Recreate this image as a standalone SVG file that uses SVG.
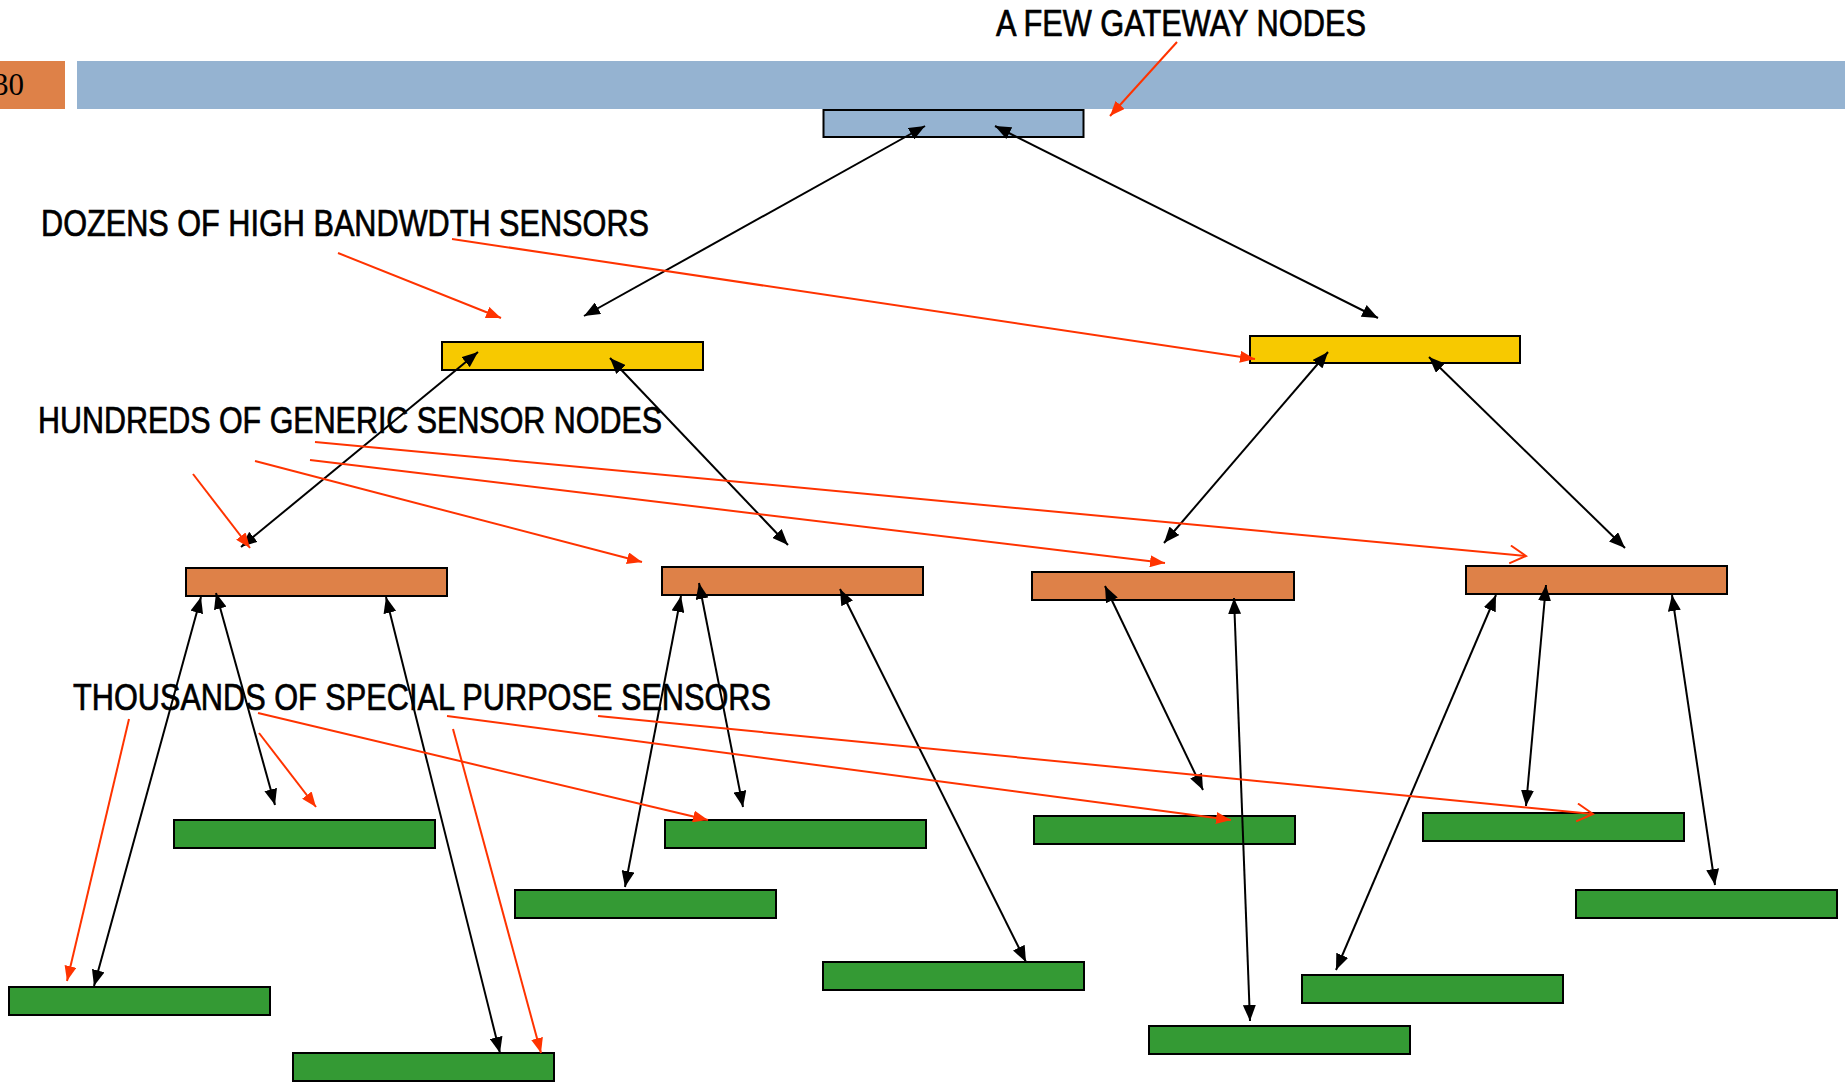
<svg xmlns="http://www.w3.org/2000/svg" width="1845" height="1088" viewBox="0 0 1845 1088">
  <style>
    .gw { fill: #95B3D1; stroke: #000; stroke-width: 2; }
    .hb { fill: #F7C900; stroke: #000; stroke-width: 2; }
    .gn { fill: #DE8148; stroke: #000; stroke-width: 2; }
    .sp { fill: #349A34; stroke: #000; stroke-width: 2; }
    .link { stroke: #000; stroke-width: 2; fill: none; marker-start: url(#headB); marker-end: url(#headB); }
    .call { stroke: #FF3300; stroke-width: 2; fill: none; marker-end: url(#headR); }
    .call-open { stroke: #FF3300; stroke-width: 2; fill: none; marker-end: url(#headRo); }
    .lbl { font-family: "Liberation Sans Narrow", "Liberation Sans", Arial, sans-serif; font-size: 37px; fill: #000; stroke: #000; stroke-width: 0.7px; }
  </style>
  <defs>
    <marker id="headB" markerUnits="userSpaceOnUse" markerWidth="17" markerHeight="13" refX="16" refY="6.5" orient="auto-start-reverse">
      <path d="M0,0 L16,6.5 L0,13 z" fill="#000"/>
    </marker>
    <marker id="headR" markerUnits="userSpaceOnUse" markerWidth="16" markerHeight="12" refX="15" refY="6" orient="auto">
      <path d="M0,0 L15,6 L0,12 z" fill="#FF3300"/>
    </marker>
    <marker id="headRo" markerUnits="userSpaceOnUse" markerWidth="20" markerHeight="22" refX="17" refY="10" orient="auto">
      <path d="M1,1 L17,10 L1,19" fill="none" stroke="#FF3300" stroke-width="2"/>
    </marker>
  </defs>

  <!-- slide header -->
  <g id="header">
    <rect x="0" y="61" width="65" height="48" fill="#DE8148"/>
    <text x="-7" y="95" font-family="Liberation Serif, serif" font-size="31" fill="#000">30</text>
    <rect x="77" y="61" width="1768" height="48" fill="#95B3D1"/>
  </g>

  <!-- tier labels -->
  <g id="labels">
    <text class="lbl" x="996" y="36" textLength="370" lengthAdjust="spacingAndGlyphs">A FEW GATEWAY NODES</text>
    <text class="lbl" x="41" y="236" textLength="608" lengthAdjust="spacingAndGlyphs">DOZENS OF HIGH BANDWDTH SENSORS</text>
    <text class="lbl" x="38" y="433" textLength="624" lengthAdjust="spacingAndGlyphs">HUNDREDS OF GENERIC SENSOR NODES</text>
    <text class="lbl" x="73" y="710" textLength="698" lengthAdjust="spacingAndGlyphs">THOUSANDS OF SPECIAL PURPOSE SENSORS</text>
  </g>

  <!-- gateway -->
  <g id="gateway"><rect class="gw" x="823.5" y="110" width="260" height="27"/></g>

  <!-- high bandwidth sensors -->
  <g id="hb-left"><rect class="hb" x="442" y="342" width="261" height="28"/></g>
  <g id="hb-right"><rect class="hb" x="1250" y="336" width="270" height="27"/></g>

  <!-- generic sensor nodes -->
  <g id="gen-1"><rect class="gn" x="186" y="568" width="261" height="28"/></g>
  <g id="gen-2"><rect class="gn" x="662" y="567" width="261" height="28"/></g>
  <g id="gen-3"><rect class="gn" x="1032" y="572" width="262" height="28"/></g>
  <g id="gen-4"><rect class="gn" x="1466" y="566" width="261" height="28"/></g>

  <!-- special purpose sensors -->
  <g id="sp-1"><rect class="sp" x="9" y="987" width="261" height="28"/></g>
  <g id="sp-2"><rect class="sp" x="174" y="820" width="261" height="28"/></g>
  <g id="sp-3"><rect class="sp" x="293" y="1053" width="261" height="28"/></g>
  <g id="sp-4"><rect class="sp" x="515" y="890" width="261" height="28"/></g>
  <g id="sp-5"><rect class="sp" x="665" y="820" width="261" height="28"/></g>
  <g id="sp-6"><rect class="sp" x="823" y="962" width="261" height="28"/></g>
  <g id="sp-7"><rect class="sp" x="1034" y="816" width="261" height="28"/></g>
  <g id="sp-8"><rect class="sp" x="1149" y="1026" width="261" height="28"/></g>
  <g id="sp-9"><rect class="sp" x="1423" y="813" width="261" height="28"/></g>
  <g id="sp-10"><rect class="sp" x="1576" y="890" width="261" height="28"/></g>
  <g id="sp-11"><rect class="sp" x="1302" y="975" width="261" height="28"/></g>

  <g id="connectors">
    <!-- two-way links between tiers -->
    <g id="links">
      <line class="link" x1="925" y1="126" x2="584" y2="316"/>
      <line class="link" x1="995" y1="126" x2="1378" y2="318"/>
      <line class="link" x1="478" y1="352" x2="241" y2="547"/>
      <line class="link" x1="610" y1="358" x2="788" y2="545"/>
      <line class="link" x1="1328" y1="352" x2="1164" y2="543"/>
      <line class="link" x1="1429" y1="357" x2="1625" y2="548"/>
      <line class="link" x1="201" y1="597" x2="94" y2="986"/>
      <line class="link" x1="216" y1="593" x2="275" y2="805"/>
      <line class="link" x1="386" y1="597" x2="500" y2="1053"/>
      <line class="link" x1="681" y1="596" x2="625" y2="887"/>
      <line class="link" x1="699" y1="583" x2="743" y2="807"/>
      <line class="link" x1="840" y1="589" x2="1026" y2="962"/>
      <line class="link" x1="1105" y1="586" x2="1203" y2="790"/>
      <line class="link" x1="1234" y1="598" x2="1250" y2="1021"/>
      <line class="link" x1="1496" y1="595" x2="1336" y2="970"/>
      <line class="link" x1="1546" y1="585" x2="1526" y2="806"/>
      <line class="link" x1="1672" y1="595" x2="1715" y2="885"/>
    </g>
    <!-- label callouts -->
    <g id="callouts">
      <line class="call" x1="1177" y1="42" x2="1110" y2="116"/>
      <line class="call" x1="338" y1="253" x2="501" y2="318"/>
      <line class="call" x1="452" y1="239" x2="1255" y2="359"/>
      <line class="call" x1="193" y1="474" x2="250" y2="548"/>
      <line class="call" x1="255" y1="461" x2="642" y2="562"/>
      <line class="call" x1="310" y1="460" x2="1165" y2="563"/>
      <line class="call-open" x1="315" y1="442" x2="1526" y2="556"/>
      <line class="call" x1="129" y1="719" x2="67" y2="981"/>
      <line class="call" x1="259" y1="733" x2="316" y2="807"/>
      <line class="call" x1="258" y1="713" x2="708" y2="820"/>
      <line class="call" x1="453" y1="729" x2="541" y2="1053"/>
      <line class="call" x1="447" y1="716" x2="1231" y2="820"/>
      <line class="call-open" x1="598" y1="716" x2="1593" y2="814"/>
    </g>
  </g>
</svg>
